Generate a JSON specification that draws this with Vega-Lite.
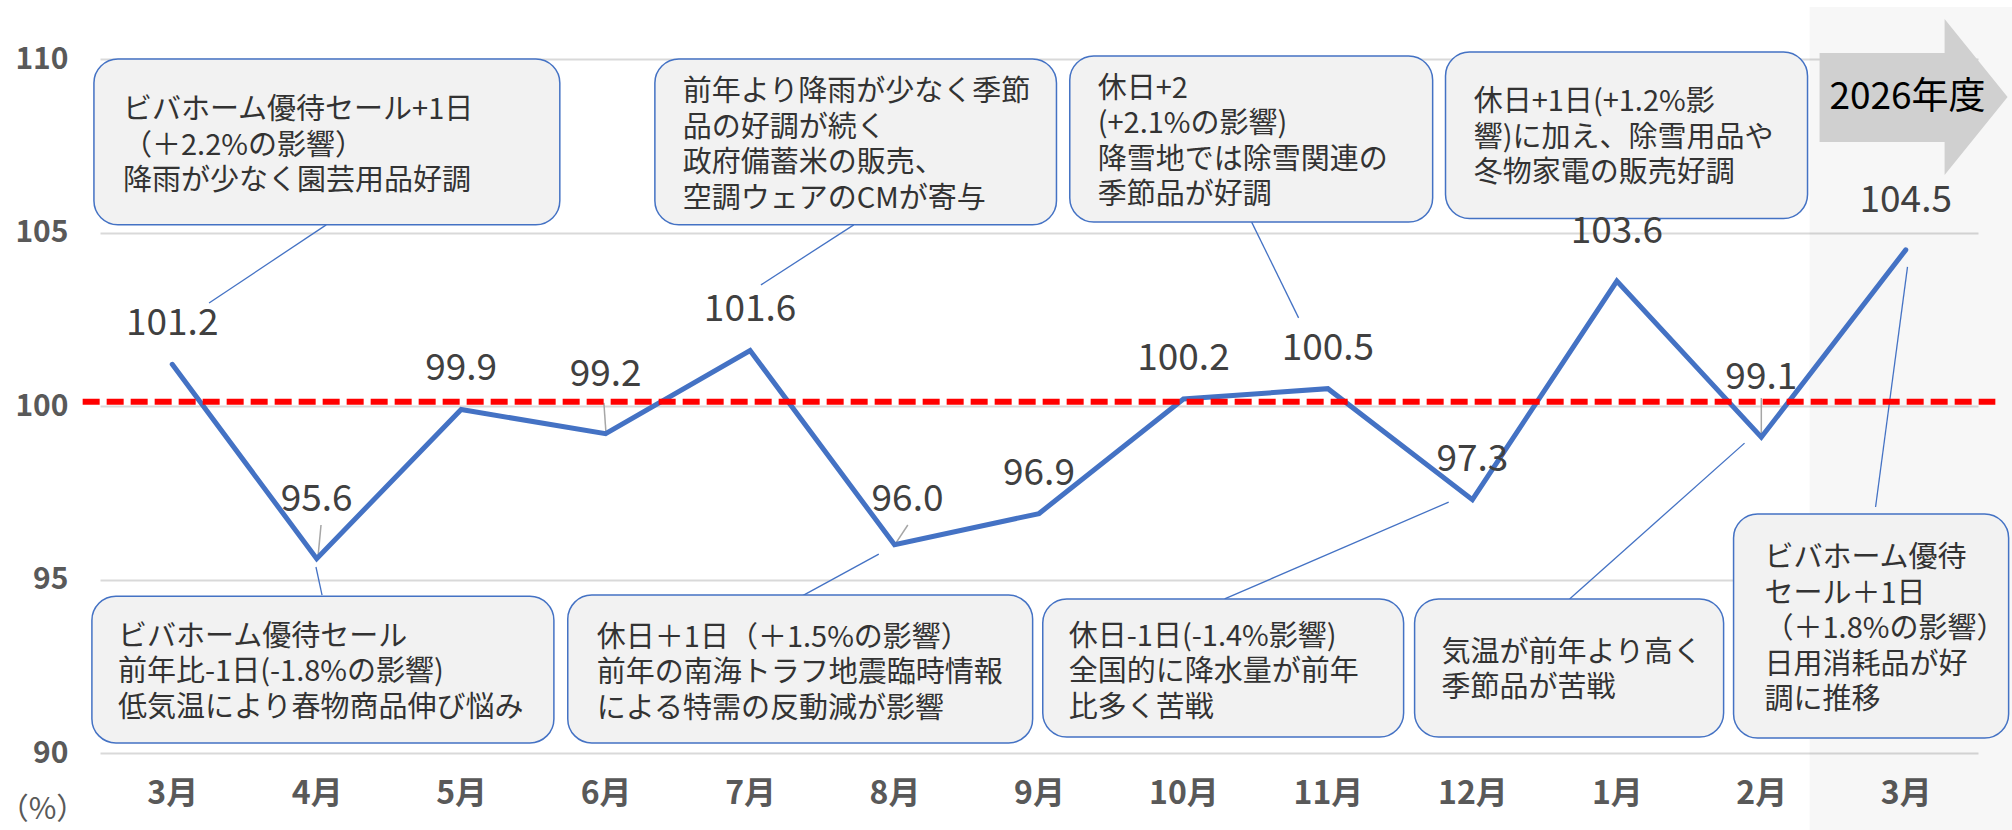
{
  "$schema": "https://vega.github.io/schema/vega-lite/v6.json",
  "width": 1878,
  "height": 694,
  "autosize": {"type": "none"},
  "padding": {"left": 100, "top": 59, "right": 34, "bottom": 77},
  "background": "white",
  "config": {
    "view": {"stroke": null},
    "font": "Noto Sans CJK JP",
    "axisX": {"grid": false, "domain": false, "ticks": false, "tickSize": 0, "labelPadding": 40, "labelBaseline": "middle", "labelFontSize": 32, "labelFontWeight": "bold", "labelColor": "#595959", "labelFlush": false, "labelOverlap": false},
    "axisY": {"grid": true, "gridColor": "#D9D9D9", "gridWidth": 2, "domain": false, "ticks": false, "tickSize": 0, "labelPadding": 32, "labelFontSize": 30, "labelFontWeight": "bold", "labelColor": "#595959", "labelBaseline": "middle", "titleFontSize": 30, "titleFontWeight": "normal", "titleColor": "#595959"}
  },
  "datasets": {
    "sales": [
      {"i": 0, "month": "3月", "value": 101.2},
      {"i": 1, "month": "4月", "value": 95.6},
      {"i": 2, "month": "5月", "value": 99.9},
      {"i": 3, "month": "6月", "value": 99.2},
      {"i": 4, "month": "7月", "value": 101.6},
      {"i": 5, "month": "8月", "value": 96.0},
      {"i": 6, "month": "9月", "value": 96.9},
      {"i": 7, "month": "10月", "value": 100.2},
      {"i": 8, "month": "11月", "value": 100.5},
      {"i": 9, "month": "12月", "value": 97.3},
      {"i": 10, "month": "1月", "value": 103.6},
      {"i": 11, "month": "2月", "value": 99.1},
      {"i": 12, "month": "3月", "value": 104.5}
    ],
    "boxes": [
      {"x1": -0.542, "x2": 2.683, "y1": 110.0, "y2": 105.22, "tx": -0.341, "ty": 108.93, "note": "ビバホーム優待セール+1日\n（＋2.2%の影響）\n降雨が少なく園芸用品好調"},
      {"x1": 3.341, "x2": 6.121, "y1": 110.0, "y2": 105.22, "tx": 3.534, "ty": 109.45, "note": "前年より降雨が少なく季節\n品の好調が続く\n政府備蓄米の販売、\n空調ウェアのCMが寄与"},
      {"x1": 6.213, "x2": 8.725, "y1": 110.09, "y2": 105.3, "tx": 6.406, "ty": 109.54, "note": "休日+2\n(+2.1%の影響)\n降雪地では除雪関連の\n季節品が好調"},
      {"x1": 8.814, "x2": 11.32, "y1": 110.2, "y2": 105.4, "tx": 9.009, "ty": 109.16, "note": "休日+1日(+1.2%影\n響)に加え、除雪用品や\n冬物家電の販売好調"},
      {"x1": -0.556, "x2": 2.642, "y1": 94.52, "y2": 90.29, "tx": -0.375, "ty": 93.75, "note": "ビバホーム優待セール\n前年比-1日(-1.8%の影響)\n低気温により春物商品伸び悩み"},
      {"x1": 2.738, "x2": 5.956, "y1": 94.55, "y2": 90.29, "tx": 2.939, "ty": 93.72, "note": "休日＋1日（＋1.5%の影響）\n前年の南海トラフ地震臨時情報\nによる特需の反動減が影響"},
      {"x1": 6.026, "x2": 8.524, "y1": 94.44, "y2": 90.46, "tx": 6.206, "ty": 93.75, "note": "休日-1日(-1.4%影響)\n全国的に降水量が前年\n比多く苦戦"},
      {"x1": 8.6, "x2": 10.739, "y1": 94.44, "y2": 90.46, "tx": 8.787, "ty": 93.29, "note": "気温が前年より高く\n季節品が苦戦"},
      {"x1": 10.808, "x2": 12.712, "y1": 96.89, "y2": 90.43, "tx": 11.022, "ty": 96.02, "note": "ビバホーム優待\nセール＋1日\n（＋1.8%の影響）\n日用消耗品が好\n調に推移"}
    ],
    "leaders": [
      {"x1": 1.066, "y1": 105.22, "x2": 0.255, "y2": 102.97},
      {"x1": 4.718, "y1": 105.22, "x2": 4.075, "y2": 103.49},
      {"x1": 7.472, "y1": 105.3, "x2": 7.797, "y2": 102.54},
      {"x1": 12.012, "y1": 104.01, "x2": 11.791, "y2": 97.09},
      {"x1": 1.037, "y1": 94.55, "x2": 0.995, "y2": 95.36},
      {"x1": 4.358, "y1": 94.52, "x2": 4.891, "y2": 95.73},
      {"x1": 7.285, "y1": 94.44, "x2": 8.836, "y2": 97.23},
      {"x1": 9.673, "y1": 94.44, "x2": 10.884, "y2": 98.93}
    ],
    "pointers": [
      {"x1": 1.03, "y1": 96.57, "x2": 1.009, "y2": 95.65},
      {"x1": 2.988, "y1": 100.09, "x2": 3.002, "y2": 99.25},
      {"x1": 5.092, "y1": 96.57, "x2": 5.009, "y2": 96.05},
      {"x1": 11.0, "y1": 100.23, "x2": 11.0, "y2": 99.11}
    ],
    "fy": [
      {"x1": 11.334, "x2": 13.3, "y1": 111.5, "y2": 87.5, "ax": 12.054, "ay": 108.905, "tx": 12.012, "ty": 108.876, "label": "2026年度"}
    ]
  },
  "layer": [
    {
      "data": {"name": "fy"},
      "mark": {"type": "rect", "fill": "#000000", "opacity": 0.031},
      "encoding": {
        "x": {"field": "x1", "type": "quantitative", "scale": {"domain": [-0.5, 12.5], "nice": false, "zero": false}},
        "x2": {"field": "x2"},
        "y": {"field": "y1", "type": "quantitative", "scale": {"domain": [90, 110], "nice": false, "zero": false}},
        "y2": {"field": "y2"}
      }
    },
    {
      "data": {"name": "fy"},
      "mark": {"type": "point", "shape": "M-1,-0.468L0.33,-0.468L0.33,-0.83L1,0L0.33,0.83L0.33,0.479L-1,0.479Z", "size": 35344, "filled": true, "fill": "#D0D0D0", "strokeWidth": 0, "opacity": 1},
      "encoding": {
        "x": {"field": "ax", "type": "quantitative"},
        "y": {"field": "ay", "type": "quantitative"}
      }
    },
    {
      "data": {"name": "fy"},
      "mark": {"type": "text", "fontSize": 37, "color": "#000000", "align": "center", "baseline": "middle"},
      "encoding": {
        "x": {"field": "tx", "type": "quantitative"},
        "y": {"field": "ty", "type": "quantitative"},
        "text": {"field": "label"}
      }
    },
    {
      "data": {"name": "leaders"},
      "mark": {"type": "rule", "color": "#4472C4", "strokeWidth": 1.3},
      "encoding": {
        "x": {"field": "x1", "type": "quantitative"},
        "x2": {"field": "x2"},
        "y": {"field": "y1", "type": "quantitative"},
        "y2": {"field": "y2"}
      }
    },
    {
      "data": {"name": "boxes"},
      "mark": {"type": "rect", "fill": "#F2F2F2", "stroke": "#4472C4", "strokeWidth": 1.5, "cornerRadius": 24},
      "encoding": {
        "x": {"field": "x1", "type": "quantitative"},
        "x2": {"field": "x2"},
        "y": {"field": "y1", "type": "quantitative"},
        "y2": {"field": "y2"}
      }
    },
    {
      "data": {"name": "boxes"},
      "mark": {"type": "text", "fontSize": 29, "color": "#333333", "align": "left", "baseline": "top", "lineBreak": "\n", "lineHeight": 35.5},
      "encoding": {
        "x": {"field": "tx", "type": "quantitative"},
        "y": {"field": "ty", "type": "quantitative"},
        "text": {"field": "note"}
      }
    },
    {
      "data": {"name": "pointers"},
      "mark": {"type": "rule", "color": "#A6A6A6", "strokeWidth": 1.5},
      "encoding": {
        "x": {"field": "x1", "type": "quantitative"},
        "x2": {"field": "x2"},
        "y": {"field": "y1", "type": "quantitative"},
        "y2": {"field": "y2"}
      }
    },
    {
      "data": {"name": "sales"},
      "mark": {"type": "line", "color": "#4472C4", "strokeWidth": 5, "strokeJoin": "miter", "strokeCap": "round"},
      "encoding": {
        "x": {
          "field": "i", "type": "quantitative",
          "scale": {"domain": [-0.5, 12.5], "nice": false, "zero": false},
          "axis": {
            "values": [0, 1, 2, 3, 4, 5, 6, 7, 8, 9, 10, 11, 12],
            "labelExpr": "['3月','4月','5月','6月','7月','8月','9月','10月','11月','12月','1月','2月','3月'][datum.value]",
            "labelFontSize": 32,
            "title": null
          }
        },
        "y": {
          "field": "value", "type": "quantitative",
          "scale": {"domain": [90, 110], "nice": false, "zero": false},
          "axis": {
            "values": [90, 95, 100, 105, 110],
            "labelFontSize": 30,
            "title": "（%）", "titleAngle": 0, "titleX": -58, "titleY": 750, "titleAlign": "center", "titleBaseline": "middle", "titleFontSize": 30
          }
        },
        "order": {"field": "i"}
      }
    },
    {
      "data": {"values": [{}]},
      "mark": {"type": "rule", "color": "#FF0000", "strokeWidth": 6, "strokeDash": [17, 7]},
      "encoding": {
        "x": {"datum": -0.62, "type": "quantitative"},
        "x2": {"datum": 12.62},
        "y": {"datum": 100.12, "type": "quantitative"}
      }
    },
    {
      "data": {"name": "sales"},
      "transform": [{"filter": "indexof([0,2,4,6,7,8,9], datum.i) >= 0"}],
      "mark": {"type": "text", "fontSize": 37, "color": "#404040", "align": "center", "baseline": "middle", "dy": -40},
      "encoding": {
        "x": {"field": "i", "type": "quantitative"},
        "y": {"field": "value", "type": "quantitative"},
        "text": {"field": "value", "type": "quantitative", "format": ".1f"}
      }
    },
    {
      "data": {"name": "sales"},
      "transform": [{"filter": "indexof([1,3,11], datum.i) >= 0"}],
      "mark": {"type": "text", "fontSize": 37, "color": "#404040", "align": "center", "baseline": "middle", "dy": -59},
      "encoding": {
        "x": {"field": "i", "type": "quantitative"},
        "y": {"field": "value", "type": "quantitative"},
        "text": {"field": "value", "type": "quantitative", "format": ".1f"}
      }
    },
    {
      "data": {"name": "sales"},
      "transform": [{"filter": "datum.i == 5"}],
      "mark": {"type": "text", "fontSize": 37, "color": "#404040", "align": "center", "baseline": "middle", "dx": 13, "dy": -45},
      "encoding": {
        "x": {"field": "i", "type": "quantitative"},
        "y": {"field": "value", "type": "quantitative"},
        "text": {"field": "value", "type": "quantitative", "format": ".1f"}
      }
    },
    {
      "data": {"name": "sales"},
      "transform": [{"filter": "indexof([10,12], datum.i) >= 0"}],
      "mark": {"type": "text", "fontSize": 37, "color": "#404040", "align": "center", "baseline": "middle", "dy": -49},
      "encoding": {
        "x": {"field": "i", "type": "quantitative"},
        "y": {"field": "value", "type": "quantitative"},
        "text": {"field": "value", "type": "quantitative", "format": ".1f"}
      }
    }
  ]
}
